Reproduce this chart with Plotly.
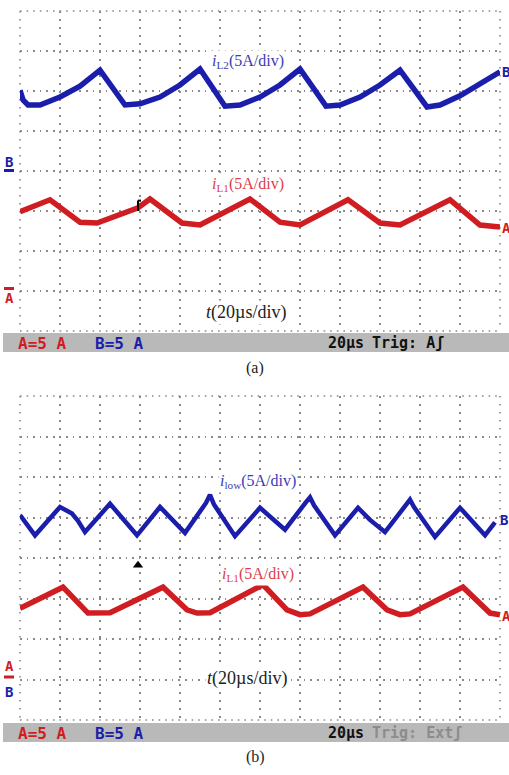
import plotly.graph_objects as go

# ---------------- data (time in µs, current in A) ----------------
# panel (a): inductor current iL2 (channel B)
a_t_iL2 = [0, 1.5, 4, 10, 20, 30, 40, 52.5, 60, 70, 80, 90, 102.5, 110, 120, 130, 140,
           153, 160, 170, 180, 190, 203.5, 210, 220, 230, 240]
a_iL2 = [10.1, 8.9, 8.25, 8.25, 9.25, 10.6, 12.6, 8.25, 8.4, 9.25, 10.75, 12.75, 8.1, 8.25,
         9.25, 10.75, 12.75, 8.1, 8.25, 9.25, 10.75, 12.6, 8.0, 8.25, 9.4, 10.9, 12.4]
# panel (a): inductor current iL1 (channel A)
a_t_iL1 = [0, 15, 30, 38.5, 59, 65, 81, 90, 115, 130, 140, 164, 180, 190, 215, 230, 240]
a_iL1 = [9.9, 11.4, 8.6, 8.5, 10.4, 11.5, 8.5, 8.25, 11.5, 8.6, 8.25, 11.4, 8.5, 8.25,
         11.4, 8.25, 8.0]
# panel (b): low-side current i_low (channel B)
b_t_ilow = [0, 7.5, 20, 26, 29, 32.5, 45, 52, 58.5, 70, 76, 82.5, 93, 95, 97, 107.5, 120,
            126, 132.5, 143, 145, 147, 157.5, 169, 175, 182.5, 193, 195, 197, 207.5, 220,
            226, 232.5, 237.5]
b_ilow = [20.3, 17.8, 21.3, 20.5, 19.6, 18.2, 21.7, 19.6, 17.8, 21.3, 19.8, 18.1, 21.8,
          22.8, 21.6, 17.7, 21.2, 19.9, 18.5, 21.9, 22.5, 21.5, 17.8, 21.2, 19.7, 18.2, 21.6,
          22.2, 21.3, 17.6, 21.2, 19.6, 17.8, 19.4]
# panel (b): inductor current iL1 (channel A)
b_t_iL1 = [0, 21.5, 34, 45, 71.5, 83.5, 88.5, 95, 121.5, 133.5, 140, 145, 171.5, 183.5,
           190, 195, 221.5, 235, 240]
b_iL1 = [8.8, 11.4, 8.2, 8.25, 11.4, 8.6, 8.2, 8.25, 11.7, 8.6, 8.0, 8.1, 11.4, 8.6, 8.0,
         8.1, 11.4, 8.2, 8.0]

trig_t = 59          # trigger marker position (µs)
trig_b_level = 14.1  # trigger arrow level in (b), A

x_ticks = list(range(0, 241, 20))   # 20 µs/div
A_range = [-5, 35]                  # 5 A/div, ground one div above bottom
B_range_a = [-20, 20]               # channel B in (a), ground at centre

W, H = 509, 775
BLUE = "#1b1eaa"
RED = "#cf1d22"
BLUE_TXT = "#3b3cb4"
RED_TXT = "#dc3f4c"


def px(x):
    return x / W


def py(y):
    return 1 - y / H


fig = go.Figure()

fig.add_trace(go.Scatter(x=a_t_iL1, y=a_iL1, mode="lines", line=dict(color=RED, width=5.5),
                         xaxis="x", yaxis="y", hoverinfo="skip"))
fig.add_trace(go.Scatter(x=a_t_iL2, y=a_iL2, mode="lines", line=dict(color=BLUE, width=5.5),
                         xaxis="x", yaxis="y2", hoverinfo="skip"))
fig.add_trace(go.Scatter(x=b_t_iL1, y=b_iL1, mode="lines", line=dict(color=RED, width=5.5),
                         xaxis="x2", yaxis="y3", hoverinfo="skip"))
fig.add_trace(go.Scatter(x=b_t_ilow, y=b_ilow, mode="lines", line=dict(color=BLUE, width=4.5),
                         xaxis="x2", yaxis="y3", hoverinfo="skip"))
# trigger marker in (b)
fig.add_trace(go.Scatter(x=[trig_t], y=[trig_b_level], mode="markers",
                         marker=dict(symbol="triangle-up", size=9, color="black"),
                         xaxis="x2", yaxis="y3", hoverinfo="skip"))

grid_col = "#8a8a8a"
VDASH = "1.6px,6.4px"
HDASH = "1.6px,5px"
xcommon = dict(range=[0, 240], tickvals=x_ticks, showgrid=True, gridcolor=grid_col,
               gridwidth=1.6, griddash=VDASH, showticklabels=False, zeroline=False,
               showline=False, ticks="", fixedrange=True)
ycommon = dict(dtick=5, showgrid=True, gridcolor=grid_col, gridwidth=1.6,
               griddash=HDASH, showticklabels=False, zeroline=False, showline=False,
               ticks="", fixedrange=True)

xdom = [px(20), px(500)]
top_dom = [py(331), py(11)]
bot_dom = [py(720), py(396)]

fig.update_layout(
    width=W, height=H, margin=dict(l=0, r=0, t=0, b=0),
    paper_bgcolor="white", plot_bgcolor="white", showlegend=False,
    xaxis=dict(domain=xdom, anchor="y", **xcommon),
    yaxis=dict(domain=top_dom, anchor="x", range=A_range, tick0=-5, **ycommon),
    yaxis2=dict(domain=top_dom, anchor="x", overlaying="y", range=B_range_a,
                showgrid=False, showticklabels=False, zeroline=False, ticks=""),
    xaxis2=dict(domain=xdom, anchor="y3", **xcommon),
    yaxis3=dict(domain=bot_dom, anchor="x2", range=A_range, tick0=-5, **ycommon),
)

shapes = []
# status bars
for y0, y1 in [(333, 352), (723, 742)]:
    shapes.append(dict(type="rect", xref="paper", yref="paper", x0=px(3), x1=1,
                       y0=py(y1), y1=py(y0), fillcolor="#b9b9b9", line=dict(width=0),
                       layer="below"))
# dotted frame edges of both graticules
for top, bot in [(11, 331), (396, 720)]:
    for y in (top, bot):
        shapes.append(dict(type="line", xref="paper", yref="paper", x0=px(20), x1=px(500),
                           y0=py(y), y1=py(y), layer="below",
                           line=dict(color=grid_col, width=1.6, dash=HDASH)))
    for x in (20, 500):
        shapes.append(dict(type="line", xref="paper", yref="paper", x0=px(x), x1=px(x),
                           y0=py(top), y1=py(bot), layer="below",
                           line=dict(color=grid_col, width=1.6, dash=VDASH)))
# ground-level bars next to channel letters
for x0, x1, y, c in [(4, 14, 170.5, BLUE), (4, 14, 288.5, RED), (4, 14, 677, RED)]:
    shapes.append(dict(type="line", xref="paper", yref="paper", x0=px(x0), x1=px(x1),
                       y0=py(y), y1=py(y), line=dict(color=c, width=3)))
# trigger bracket in (a)
shapes.append(dict(type="line", xref="x", yref="y", x0=trig_t, x1=trig_t, y0=10.0, y1=11.3,
                   line=dict(color="black", width=2)))
shapes.append(dict(type="line", xref="x", yref="y", x0=trig_t, x1=trig_t + 1.5, y0=11.3,
                   y1=11.3, line=dict(color="black", width=2)))
fig.update_layout(shapes=shapes)

ann = []


def text(x, y, s, size, color, family="Liberation Serif", xanchor="center", bg=None):
    d = dict(x=px(x), y=py(y), xref="paper", yref="paper", text=s, showarrow=False,
             font=dict(family=family, size=size, color=color), xanchor=xanchor,
             yanchor="middle")
    if bg:
        d["bgcolor"] = bg
    ann.append(d)


# waveform labels
text(248, 62, "<i>i</i><sub>L2</sub>(5A/div)", 16, BLUE_TXT, bg="white")
text(248, 184, "<i>i</i><sub>L1</sub>(5A/div)", 16, RED_TXT, bg="white")
text(246, 312, "<i>t</i>(20µs/div)", 18, "#222222", bg="white")
text(258, 481, "<i>i</i><sub>low</sub>(5A/div)", 16, BLUE_TXT, bg="white")
text(258, 574, "<i>i</i><sub>L1</sub>(5A/div)", 16, RED_TXT, bg="white")
text(247, 678, "<i>t</i>(20µs/div)", 18, "#222222", bg="white")

# captions
text(255, 368, "(a)", 16, "#222222")
text(255, 757, "(b)", 16, "#222222")

# channel markers
mono = "DejaVu Sans Mono"
text(9, 162, "<b>B</b>", 14, BLUE, family=mono)
text(9, 298, "<b>A</b>", 14, RED, family=mono)
text(9, 666, "<b>A</b>", 14, RED, family=mono)
text(9, 692, "<b>B</b>", 14, BLUE, family=mono)
text(500, 72, "<b>B</b>", 14, BLUE, family=mono, xanchor="left")
text(500, 228, "<b>A</b>", 14, RED, family=mono, xanchor="left")
text(498, 520, "<b>B</b>", 14, BLUE, family=mono, xanchor="left")
text(500, 616, "<b>A</b>", 14, RED, family=mono, xanchor="left")

# status bar texts
for yb, trig, tcol in [(343, "Trig: A\u0283", "#111111"), (733, "Trig: Ext\u0283", "#8c8c8c")]:
    text(16, yb, "<b>A=5 A</b>", 16, RED, family=mono, xanchor="left")
    text(93, yb, "<b>B=5 A</b>", 16, BLUE, family=mono, xanchor="left")
    text(326, yb, "<b>20µs</b>", 15, "#111111", family=mono, xanchor="left")
    text(370, yb, "<b>" + trig + "</b>", 15, tcol, family=mono, xanchor="left")

fig.update_layout(annotations=ann)

fig.write_html("out.html")
